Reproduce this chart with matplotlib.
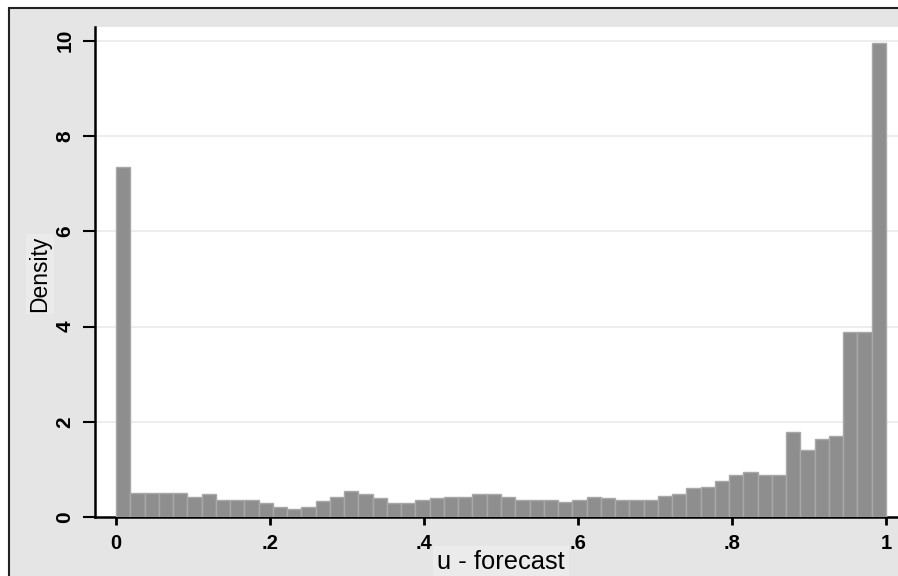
import numpy as np
import matplotlib
matplotlib.use("Agg")
import matplotlib.pyplot as plt
from matplotlib.patches import Rectangle

plt.rcParams['font.family'] = ['Liberation Sans', 'DejaVu Sans']

# histogram of u - forecast, 54 equal bins on [0, 1]
n_bins = 54
density = [7.34, 0.51, 0.51, 0.51, 0.51, 0.43, 0.48, 0.36, 0.36, 0.36,
           0.30, 0.22, 0.17, 0.22, 0.33, 0.42, 0.54, 0.48, 0.39, 0.29,
           0.29, 0.36, 0.39, 0.42, 0.42, 0.48, 0.48, 0.43, 0.36, 0.36,
           0.36, 0.32, 0.36, 0.43, 0.39, 0.36, 0.36, 0.36, 0.45, 0.48,
           0.60, 0.64, 0.76, 0.88, 0.95, 0.89, 0.89, 1.79, 1.41, 1.64,
           1.71, 3.89, 3.89, 9.95]
x_ticks = [0, 0.2, 0.4, 0.6, 0.8, 1.0]
x_labels = ['0', '.2', '.4', '.6', '.8', '1']
y_ticks = [0, 2, 4, 6, 8, 10]
y_labels = ['0', '2', '4', '6', '8', '10']

W, H = 898, 576
fig = plt.figure(figsize=(W / 100, H / 100), dpi=100, facecolor='white')

# grey graph region with dark frame (cut at right / bottom)
fig.patches.append(Rectangle((9 / W, -0.1), 1.2, 1.1 - 8 / H,
                             transform=fig.transFigure, facecolor='#e5e5e5',
                             edgecolor='#222222', linewidth=1.5, zorder=-10))

ax = fig.add_axes([95 / W, (H - 517) / H, 811 / W, 490 / H])
ax.set_zorder(5)
ax.set_facecolor('white')

edges = np.linspace(0, 1, n_bins + 1)
ax.bar(edges[:-1], density, width=1 / n_bins, align='edge',
       color='#8e8e8e', edgecolor='#a8a8a8', linewidth=1.0, zorder=3)

ax.set_xlim(-0.0273, 1.026)
ax.set_ylim(0, 10.29)

ax.set_yticks(y_ticks)
ax.set_yticklabels(y_labels, rotation=90, va='center')
ax.set_xticks(x_ticks)
ax.set_xticklabels(x_labels, fontweight='bold')
for lab in ax.get_yticklabels():
    lab.set_fontweight('bold')

ax.tick_params(axis='x', length=6, width=2, pad=6, labelsize=14.5, colors='black')
ax.tick_params(axis='y', length=9, width=1.5, pad=6, labelsize=15, colors='black')

for y in y_ticks[1:]:
    ax.axhline(y, color='#ececec', linewidth=1.3, zorder=1)

for s in ['top', 'right']:
    ax.spines[s].set_visible(False)
ax.spines['left'].set_linewidth(1.8)
ax.spines['bottom'].set_linewidth(1.8)

ax.set_ylabel('Density', fontsize=16.5, va='center',
              bbox=dict(facecolor='#ebebeb', edgecolor='none', pad=1.5))
ax.yaxis.set_label_coords(40 / W, (H - 274) / H, transform=fig.transFigure)
ax.set_xlabel('u - forecast', fontsize=18.4, va='baseline',
              bbox=dict(facecolor='#ebebeb', edgecolor='none', pad=3))
ax.xaxis.set_label_coords(501 / W, (H - 569) / H, transform=fig.transFigure)

fig.savefig('out.png', dpi=100)
